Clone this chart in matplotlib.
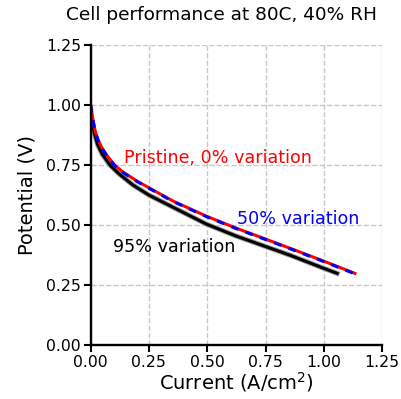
import matplotlib.pyplot as plt
import matplotlib.patheffects as pe

# polarization curves
i_pristine = [0.0, 0.004, 0.010, 0.020, 0.032, 0.046, 0.070, 0.103, 0.140, 0.200, 0.251,
              0.354, 0.497, 0.620, 0.747, 0.854, 0.997, 1.133]
v_pristine = [1.0, 0.970, 0.938, 0.890, 0.855, 0.826, 0.790, 0.750, 0.720, 0.683, 0.655,
              0.600, 0.537, 0.489, 0.443, 0.404, 0.351, 0.299]

i_50 = [0.0, 0.004, 0.010, 0.020, 0.032, 0.046, 0.070, 0.103, 0.140, 0.200, 0.251,
        0.354, 0.497, 0.620, 0.747, 0.854, 0.997, 1.133]
v_50 = [1.0, 0.968, 0.936, 0.888, 0.853, 0.824, 0.788, 0.748, 0.718, 0.681, 0.653,
        0.598, 0.535, 0.487, 0.441, 0.402, 0.349, 0.297]

i_95 = [0.0, 0.004, 0.010, 0.018, 0.030, 0.050, 0.083, 0.120, 0.180, 0.250,
        0.354, 0.497, 0.620, 0.747, 0.854, 0.997, 1.057]
v_95 = [0.99, 0.950, 0.910, 0.875, 0.835, 0.795, 0.750, 0.715, 0.668, 0.625,
        0.574, 0.504, 0.456, 0.412, 0.375, 0.321, 0.299]

xticks = [0.0, 0.25, 0.5, 0.75, 1.0, 1.25]
yticks = [0.0, 0.25, 0.5, 0.75, 1.0, 1.25]

fig = plt.figure(figsize=(4.01, 3.99), dpi=100)
ax = fig.add_axes([0.226, 0.135, 0.727, 0.752])

# black curve has a soft grey edge in the original
ax.plot(i_95, v_95, color='black', lw=2.2, solid_joinstyle='round',
        path_effects=[pe.Stroke(linewidth=3.6, foreground='#999999'), pe.Normal()])
ax.plot(i_pristine, v_pristine, color='red', lw=2.2, solid_joinstyle='round')
ax.plot(i_50, v_50, color='blue', lw=2.2, ls=(0, (2.5, 2.5)))

ax.text(0.143, 0.78, 'Pristine, 0% variation', color='red', fontsize=12.6, va='center')
ax.text(0.626, 0.525, '50% variation', color='blue', fontsize=12.6, va='center')
ax.text(0.097, 0.41, '95% variation', color='black', fontsize=12.6, va='center')

ax.set_xlim(0, 1.25)
ax.set_ylim(0, 1.25)
ax.set_xticks(xticks)
ax.set_yticks(yticks)
ax.tick_params(labelsize=11.3, width=1.5, length=5, pad=2)
ax.grid(True, color='#c8c8c8', ls='--', lw=1)
ax.set_axisbelow(True)
for s in ['top', 'right']:
    ax.spines[s].set_visible(False)
for s in ['left', 'bottom']:
    ax.spines[s].set_linewidth(1.7)

ax.set_xlabel('Current (A/cm$^2$)', fontsize=14, labelpad=0)
ax.set_ylabel('Potential (V)', fontsize=14, labelpad=7)
ax.set_title('Cell performance at 80C, 40% RH', fontsize=13.3, x=0.45, pad=18)

fig.savefig('out.png', dpi=100)
